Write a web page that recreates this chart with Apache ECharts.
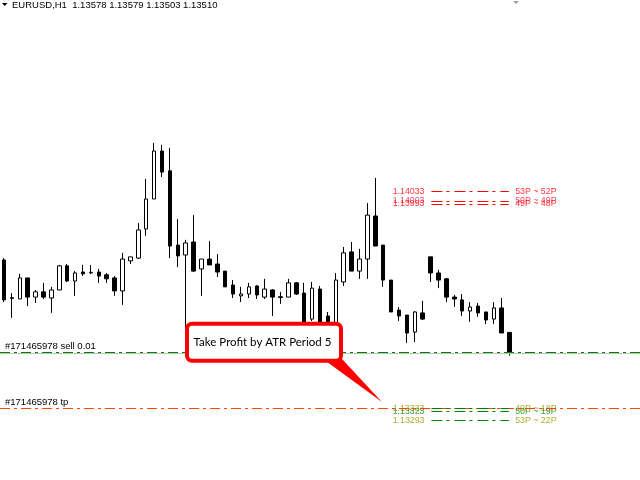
<!DOCTYPE html>
<html>
<head>
<meta charset="utf-8">
<script src="https://cdn.jsdelivr.net/npm/echarts@6/dist/echarts.min.js"></script>
<style>
html,body{margin:0;padding:0;background:#fff;}
#chart{width:640px;height:480px;}
</style>
</head>
<body>
<div id="chart"></div>
<script>
// ---- data (EURUSD H1) ----
const barSlots = Array.from({length: 81}, (_, i) => 'H' + (i + 1));
const opens  = [1.13812,1.13690,1.13686,1.13754,1.13692,1.13709,1.13689,1.13715,1.13793,1.13744,
                1.13773,1.13770,1.13773,1.13764,1.13754,1.13712,1.13809,1.13818,1.13912,1.14009,
                1.14164,1.14100,1.13860,1.13828,1.13870,1.13783,1.13815,1.13799,1.13776,1.13731,
                1.13696,1.13702,1.13728,1.13692,1.13715,1.13693,1.13692,1.13738,1.13705,1.13621,
                1.13718,1.13631,1.13602,1.13741,1.13838,1.13776,1.13815,1.13954,1.13860,1.13747,
                1.13650,1.13634,1.13579,1.13641,1.13822,1.13770,1.13751,1.13692,1.13683,1.13647,
                1.13663,1.13644,1.13621,1.13657,1.13578];
const closes = [1.13683,1.13688,1.13754,1.13692,1.13709,1.13692,1.13715,1.13793,1.13744,1.13770,
                1.13767,1.13772,1.13760,1.13751,1.13712,1.13815,1.13822,1.13909,1.14009,1.14164,
                1.14096,1.13857,1.13825,1.13867,1.13776,1.13815,1.13796,1.13773,1.13725,1.13702,
                1.13702,1.13725,1.13699,1.13718,1.13692,1.13691,1.13738,1.13702,1.13599,1.13721,
                1.13602,1.13599,1.13747,1.13835,1.13776,1.13815,1.13957,1.13857,1.13747,1.13644,
                1.13631,1.13576,1.13644,1.13621,1.13770,1.13747,1.13692,1.13686,1.13647,1.13660,
                1.13641,1.13618,1.13657,1.13576,1.13510];
const lows   = [1.13676,1.13625,1.13686,1.13663,1.13673,1.13686,1.13641,1.13715,1.13741,1.13696,
                1.13760,1.13767,1.13738,1.13738,1.13696,1.13667,1.13799,1.13815,1.13890,1.14009,
                1.14080,1.13818,1.13789,1.13592,1.13773,1.13696,1.13796,1.13757,1.13725,1.13689,
                1.13676,1.13689,1.13686,1.13686,1.13631,1.13670,1.13692,1.13699,1.13586,1.13615,
                1.13592,1.13586,1.13596,1.13728,1.13776,1.13751,1.13751,1.13857,1.13725,1.13644,
                1.13615,1.13544,1.13547,1.13618,1.13741,1.13721,1.13676,1.13660,1.13631,1.13612,
                1.13628,1.13605,1.13605,1.13576,1.13503];
const highs  = [1.13818,1.13705,1.13767,1.13754,1.13715,1.13738,1.13725,1.13796,1.13799,1.13776,
                1.13796,1.13796,1.13783,1.13770,1.13760,1.13835,1.13822,1.13931,1.14074,1.14190,
                1.14184,1.14174,1.13944,1.13877,1.13957,1.13815,1.13873,1.13831,1.13776,1.13747,
                1.13725,1.13738,1.13731,1.13751,1.13718,1.13709,1.13751,1.13741,1.13738,1.13741,
                1.13728,1.13644,1.13770,1.13854,1.13870,1.13848,1.13996,1.14077,1.13860,1.13747,
                1.13660,1.13634,1.13647,1.13680,1.13822,1.13780,1.13754,1.13699,1.13702,1.13676,
                1.13673,1.13644,1.13676,1.13689,1.13579];

const headerText = 'EURUSD,H1  1.13578 1.13579 1.13503 1.13510';
const bidPrice = 1.13510;
const sellPrice = 1.13513;
const tpPrice = 1.13333;
const sellLabel = '#171465978 sell 0.01';
const tpLabel = '#171465978 tp';

const levelPrices = [1.14033, 1.14003, 1.13993, 1.13333, 1.13323, 1.13293];
const levelPips   = ['53P ~ 52P', '50P ~ 49P', '49P ~ 48P', '49P ~ 18P', '50P ~ 19P', '53P ~ 22P'];
const levelTextColors = ['#ff0000', '#ff1a4a', '#ff0000', '#9a9a00', '#0e820e', '#9a9a00'];
const levelDashColors = ['#ff0000', '#ff0000', '#ff0000', '#008000', '#008000', '#008000'];
const calloutText = 'Take Profit by ATR Period 5';

// ---- build ----
const candleData = opens.map((o, i) => [o, closes[i], lows[i], highs[i]]);
const X_MIN = -0.5, X_MAX = 80.5;
const LABEL_X = 49.2, DASH_X0 = 54.1, DASH_X1 = 63.9, PIPS_X = 64.7;

const priceLabels = levelPrices.map((p, i) => ({
  value: [LABEL_X, p],
  label: {color: levelTextColors[i], formatter: p.toFixed(5)}
}));
const pipLabels = levelPrices.map((p, i) => ({
  value: [PIPS_X, p],
  label: {color: levelTextColors[i], formatter: levelPips[i]}
}));
const dashSegments = levelPrices.map((p, i) => [
  {coord: [DASH_X0, p], lineStyle: {color: levelDashColors[i], width: 1, type: [11, 4, 3, 5]}},
  {coord: [DASH_X1, p]}
]);
const tradeFont = {color: '#000', fontFamily: 'Liberation Sans', fontSize: 9.5};
function fullLine(price, style, text) {
  return [
    {coord: [X_MIN, price], lineStyle: style,
     label: text ? {show: true, position: 'insideStartTop', formatter: text, distance: [5, 1], ...tradeFont} : {show: false}},
    {coord: [X_MAX, price]}
  ];
}
const tradeLines = [
  fullLine(bidPrice, {color: '#c0c0c0', width: 1, type: 'solid'}, null),
  fullLine(sellPrice, {color: '#008000', width: 1, type: [10, 4, 3, 4]}, sellLabel),
  fullLine(tpPrice, {color: '#ff4500', width: 1, type: [10, 4, 3, 4]}, tpLabel)
];

const labelFont = {fontFamily: 'Liberation Sans', fontSize: 8.8};

const chart = echarts.init(document.getElementById('chart'), null, {renderer: 'canvas'});
chart.setOption({
  animation: false,
  backgroundColor: '#ffffff',
  title: {
    text: headerText, left: 12, top: 0, padding: 0,
    textStyle: {fontFamily: 'Liberation Sans', fontSize: 9.5, fontWeight: 'normal', color: '#000', lineHeight: 10}
  },
  grid: {left: -5, right: -3, top: 0, bottom: 0, containLabel: false},
  xAxis: [
    {type: 'category', data: barSlots, boundaryGap: true, show: false},
    {type: 'value', min: X_MIN, max: X_MAX, show: false}
  ],
  yAxis: {type: 'value', min: 1.13101, max: 1.14652, show: false, scale: true},
  series: [
    {
      type: 'scatter', name: 'trade', xAxisIndex: 1, symbolSize: 0.01, silent: true, z: 1,
      data: [[X_MIN, bidPrice]],
      markLine: {silent: true, symbol: 'none', animation: false, data: tradeLines}
    },
    {
      type: 'candlestick', name: 'EURUSD,H1', xAxisIndex: 0, z: 2,
      data: candleData, barWidth: 4,
      itemStyle: {color: '#ffffff', color0: '#000000', borderColor: '#000000', borderColor0: '#000000', borderColorDoji: '#000000', borderWidth: 1}
    },
    {
      type: 'scatter', name: 'levels', xAxisIndex: 1, symbolSize: 0.01, silent: true, z: 3,
      data: priceLabels,
      label: {show: true, position: 'right', distance: 0, ...labelFont},
      markLine: {silent: true, symbol: 'none', animation: false, label: {show: false}, data: dashSegments}
    },
    {
      type: 'scatter', name: 'pips', xAxisIndex: 1, symbolSize: 0.01, silent: true, z: 3,
      data: pipLabels,
      label: {show: true, position: 'right', distance: 0, ...labelFont}
    }
  ],
  graphic: [
    {type: 'polygon', shape: {points: [[2, 3], [7.5, 3], [4.75, 6]]}, style: {fill: '#000'}, z: 100},
    {type: 'polygon', shape: {points: [[513, 1], [519, 1], [516, 4]]}, style: {fill: '#a0a0a0'}, z: 100},
    {type: 'polygon', shape: {points: [[323, 359], [342, 359], [382, 402]]}, style: {fill: '#ff0000'}, z: 100},
    {type: 'rect', shape: {x: 187, y: 323.7, width: 154, height: 37, r: 5}, style: {fill: '#ffffff', stroke: '#ff0000', lineWidth: 4}, z: 101},
    {type: 'text', x: 262.5, y: 342, style: {text: calloutText, fill: '#000', font: '11.5px Lato', textAlign: 'center', textVerticalAlign: 'middle'}, z: 102}
  ]
});
</script>
</body>
</html>
